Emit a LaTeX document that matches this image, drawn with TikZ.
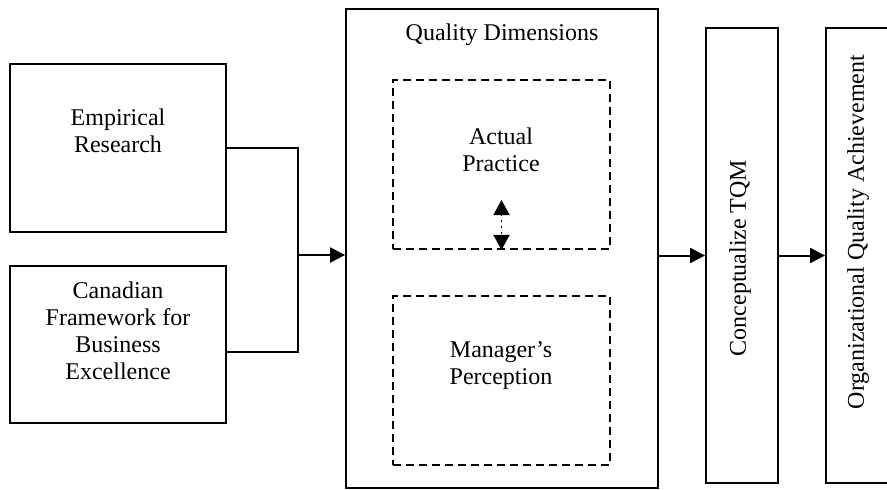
\documentclass[tikz,border=0pt]{standalone}
\usepackage{fontspec}
\setmainfont{Liberation Serif}
\usetikzlibrary{positioning}
\usetikzlibrary{arrows.meta}

\tikzset{
  box/.style={draw, line width=0.9pt, inner sep=0pt},
  dashbox/.style={draw, line width=0.9pt, dash pattern=on 4pt off 2.5pt, inner sep=0pt},
  lbl/.style={align=center, inner sep=0pt, font=\fontsize{12}{13.5}\selectfont},
  flow/.style={line width=1pt, -{Triangle[length=7.5pt,width=7.5pt]}},
  link/.style={line width=0.8pt},
  swap/.style={line width=0.9pt, dotted, {Triangle[length=7.5pt,width=8pt]}-{Triangle[length=7.5pt,width=8pt]}}
}

\begin{document}
\begin{tikzpicture}[x=0.5pt, y=-0.5pt]
%--------------------------------------------------
\useasboundingbox (0,0) rectangle (887,489);

% the two source boxes on the left
\node [box, minimum width=108pt, minimum height=84pt] (emp) at (118,148) {};
\node [box, minimum width=108pt, minimum height=78.5pt] (can) at (118,344.5) {};
\node [lbl] (empText) at (118,131) {Empirical\\Research};
\node [lbl] (canText) at (118,331) {Canadian\\Framework for\\Business\\Excellence};

% quality dimensions with its two dashed parts
\node [box, minimum width=156pt, minimum height=239.5pt] (qd) at (502,248.5) {};
\node [lbl] (qdText) at (502,35) {Quality Dimensions};
\node [dashbox, minimum width=108.5pt, minimum height=84.5pt] (ap) at (501.5,164.5) {};
\node [dashbox, minimum width=108.5pt, minimum height=84.5pt] (mp) at (501.5,380.5) {};
\node [lbl] (apText) at (501,150) {Actual\\Practice};
\node [lbl] (mpText) at (501,366) {Manager's\\Perception};

% the two tall boxes on the right
\node [box, minimum width=36pt, minimum height=227.5pt] (tqm) at (742,255.5) {};
\node [box, minimum width=37pt, minimum height=227.5pt] (oqa) at (863,255.5) {};
\node [lbl, rotate=90] (tqmText) at (740,258) {Conceptualize TQM};
\node [lbl, rotate=90] (oqaText) at (858,232) {Organizational Quality Achievement};

% joining the sources
\coordinate (jn) at (298,255);
\coordinate (gapTop) at (501.5,200);
\draw [link] (emp.east) -| (jn);
\draw [link] (jn) |- ([yshift=-3.75pt]can.east);
\draw [flow] (jn) -- (jn -| qd.west);

% arrows to the right
\draw [flow] (qd.east |- tqm.west) -- (tqm.west);
\draw [flow] (tqm.east) -- (tqm.east -| oqa.west);
\draw [swap] (gapTop) -- (ap.south);

%--------------------------------------------------
\end{tikzpicture}
\end{document}
